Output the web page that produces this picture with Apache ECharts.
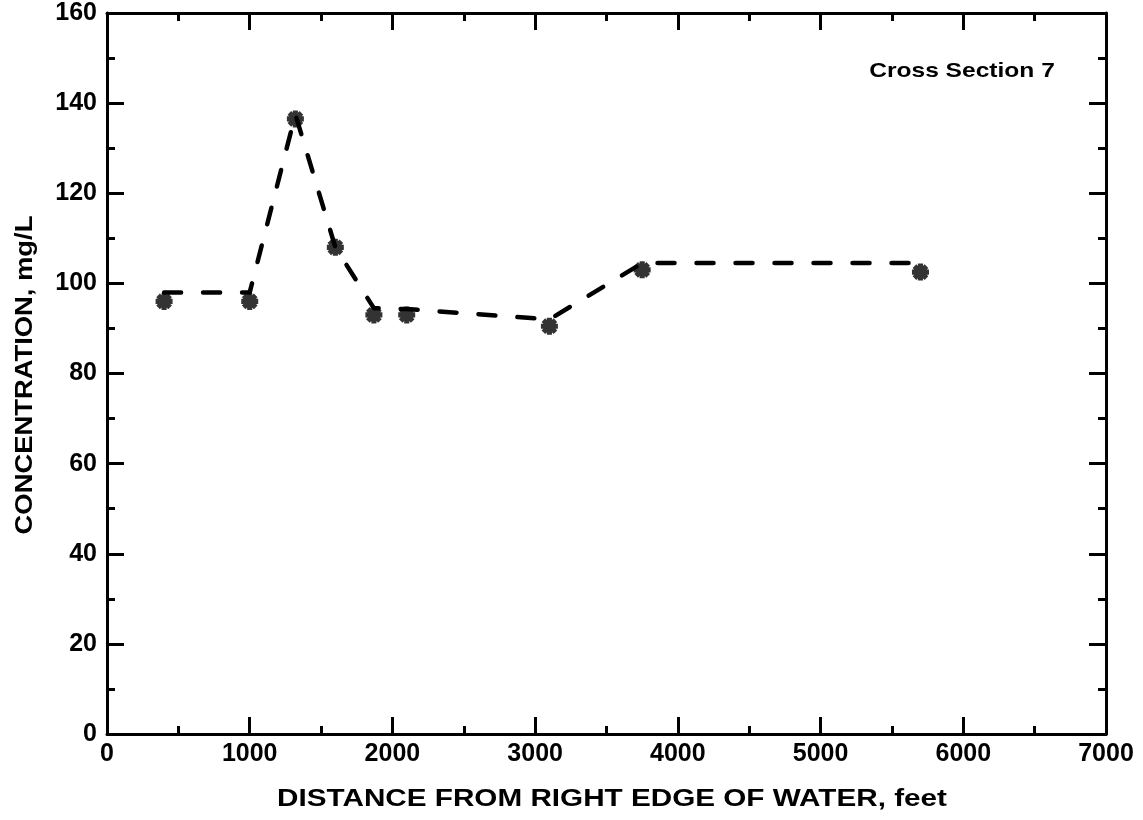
<!DOCTYPE html>
<html>
<head>
<meta charset="utf-8">
<title>Cross Section 7 concentration</title>
<script src="https://cdn.jsdelivr.net/npm/echarts@6/dist/echarts.min.js"></script>
<style>
  html, body { margin: 0; padding: 0; background: #fff; }
  #chart { width: 1143px; height: 820px; }
</style>
</head>
<body>
<div id="chart"></div>
<script>
// Sampled concentrations across the section
const distanceFt = [400, 1000, 1320, 1600, 1870, 2100, 3100, 3750, 5700];
const concentrationMgL = [96, 96, 136.5, 108, 93, 93, 90.5, 103, 102.5];

// Dashed profile line drawn through the samples
const profileDistanceFt = [400, 1000, 1320, 1600, 1870, 2100, 3100, 3750, 5700];
const profileConcentrationMgL = [98, 98, 137.5, 108, 94.5, 94.3, 92, 104.5, 104.5];

// Axis ranges and tick spacing
const xRange = [0, 7000];
const xStep = 1000;
const yRange = [0, 160];
const yStep = 20;

const sectionLabel = 'Cross Section 7';
const xTitle = 'DISTANCE FROM RIGHT EDGE OF WATER, feet';
const yTitle = 'CONCENTRATION, mg/L';

const samplePoints = distanceFt.map((d, i) => [d, concentrationMgL[i]]);
const profilePoints = profileDistanceFt.map((d, i) => [d, profileConcentrationMgL[i]]);

// eight-armed asterisk marker with thick arms
const asterisk = 'path://M0,35L100,35L100,65L0,65Z' +
  'M35,0L65,0L65,100L35,100Z' +
  'M3.97,25.18L25.18,3.97L96.03,74.82L74.82,96.03Z' +
  'M74.82,3.97L96.03,25.18L25.18,96.03L3.97,74.82Z';

const ink = '#000';
const textFont = 'Liberation Sans';

function frameAxis(extra) {
  return Object.assign({
    type: 'value',
    axisLine: { show: true, onZero: false, lineStyle: { color: ink, width: 3 } },
    axisTick: { show: true, inside: true, length: 17, lineStyle: { color: ink, width: 3 } },
    minorTick: { show: true, splitNumber: 2, length: 8, lineStyle: { color: ink, width: 3 } },
    splitLine: { show: false },
    minorSplitLine: { show: false }
  }, extra);
}

const plainNumber = v => String(v);

const chart = echarts.init(document.getElementById('chart'), null, { renderer: 'canvas' });

chart.setOption({
  backgroundColor: '#fff',
  animation: false,
  grid: { left: 107, top: 13, width: 999, height: 721, containLabel: false },
  xAxis: [
    frameAxis({
      position: 'bottom', min: xRange[0], max: xRange[1], interval: xStep,
      axisLabel: {
        show: true, color: ink, fontFamily: textFont, fontWeight: 'bold',
        fontSize: 25, margin: 8, formatter: plainNumber
      }
    }),
    frameAxis({
      position: 'top', min: xRange[0], max: xRange[1], interval: xStep,
      axisLabel: { show: false }
    })
  ],
  yAxis: [
    frameAxis({
      position: 'left', min: yRange[0], max: yRange[1], interval: yStep,
      axisLabel: {
        show: true, color: ink, fontFamily: textFont, fontWeight: 'bold',
        fontSize: 25, margin: 10, padding: [8, 0, 0, 0], formatter: plainNumber
      }
    }),
    frameAxis({
      position: 'right', min: yRange[0], max: yRange[1], interval: yStep,
      axisLabel: { show: false }
    })
  ],
  graphic: [
    {
      type: 'text', x: 962, y: 71, scaleX: 1.17,
      style: {
        text: sectionLabel, fill: ink, fontFamily: textFont, fontWeight: 'bold',
        fontSize: 21, textAlign: 'center', textVerticalAlign: 'middle'
      }
    },
    {
      type: 'text', x: 612, y: 800, scaleX: 1.29,
      style: {
        text: xTitle, fill: ink, fontFamily: textFont, fontWeight: 'bold',
        fontSize: 23, textAlign: 'center', textVerticalAlign: 'middle'
      }
    },
    {
      type: 'text', x: 26, y: 375, rotation: Math.PI / 2, scaleX: 1.19,
      style: {
        text: yTitle, fill: ink, fontFamily: textFont, fontWeight: 'bold',
        fontSize: 23, textAlign: 'center', textVerticalAlign: 'middle'
      }
    }
  ],
  series: [
    {
      type: 'line',
      data: profilePoints,
      xAxisIndex: 0, yAxisIndex: 0,
      showSymbol: false,
      symbol: 'none',
      lineStyle: { color: ink, width: 4.5, type: [17, 22], cap: 'round', join: 'round' },
      z: 2
    },
    {
      type: 'scatter',
      data: samplePoints,
      xAxisIndex: 0, yAxisIndex: 0,
      symbol: asterisk,
      symbolSize: 17,
      itemStyle: { color: ink },
      z: 3
    }
  ]
});
</script>
</body>
</html>
